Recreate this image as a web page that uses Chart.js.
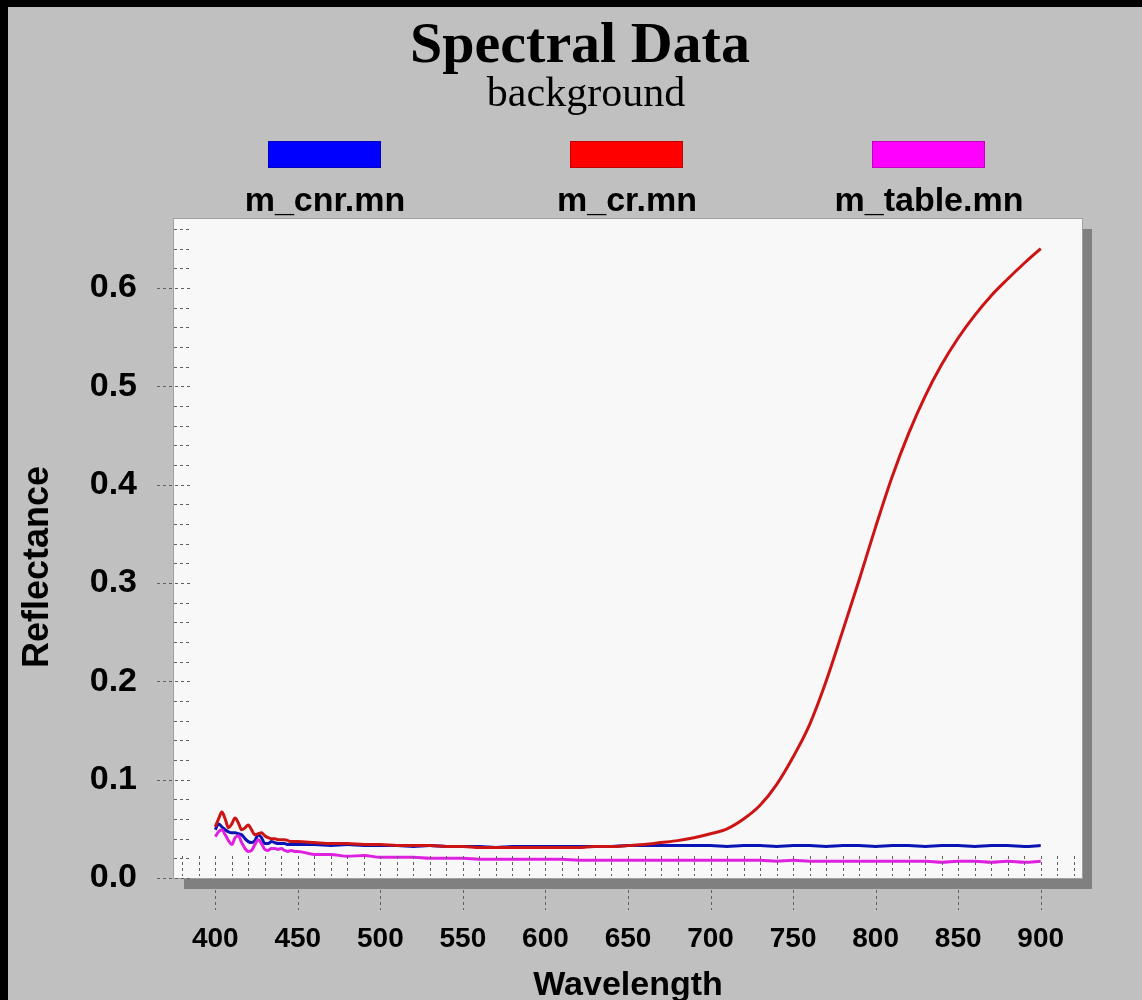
<!DOCTYPE html>
<html><head><meta charset="utf-8">
<script src="https://cdn.jsdelivr.net/npm/chart.js@4/dist/chart.umd.min.js"></script>
<style>html,body{margin:0;padding:0;background:#c0c0c0;}canvas{display:block}</style>
</head><body>
<canvas id="c" width="1142" height="1000"></canvas>
<script>
const wavelengths = [400,402,404,406,408,410,412,414,416,418,420,422,424,426,428,430,432,434,436,438,440,442,444,446,448,450,
  460,470,480,490,500,510,520,530,540,550,560,570,580,590,600,610,620,630,640,650,660,670,680,690,700,
  710,720,730,740,750,760,770,780,790,800,810,820,830,840,850,860,870,880,890,900];
const mCnr = [0.049,0.055,0.052,0.049,0.047,0.046,0.046,0.045,0.044,0.040,0.037,0.036,0.038,0.044,0.041,0.035,0.035,0.037,0.036,0.035,0.035,0.035,0.034,0.034,0.034,0.034,
  0.034,0.033,0.034,0.033,0.033,0.033,0.032,0.033,0.032,0.032,0.032,0.031,0.032,0.032,0.032,0.032,0.032,0.032,0.032,0.033,0.033,0.033,0.033,0.033,0.033,
  0.032,0.033,0.033,0.032,0.033,0.033,0.032,0.033,0.033,0.032,0.033,0.033,0.032,0.033,0.033,0.032,0.033,0.033,0.032,0.033];
const mCr = [0.052,0.060,0.067,0.060,0.051,0.055,0.061,0.056,0.049,0.051,0.054,0.049,0.044,0.045,0.046,0.043,0.041,0.040,0.040,0.039,0.039,0.039,0.038,0.037,0.037,0.037,
  0.036,0.035,0.035,0.034,0.034,0.033,0.033,0.033,0.032,0.032,0.031,0.031,0.031,0.031,0.031,0.031,0.031,0.032,0.032,0.033,0.034,0.036,0.038,0.041,0.045,
  0.050,0.060,0.074,0.095,0.123,0.156,0.200,0.251,0.303,0.357,0.408,0.452,0.490,0.522,0.549,0.572,0.592,0.609,0.625,0.640];
const mTable = [0.042,0.047,0.049,0.044,0.038,0.034,0.041,0.043,0.036,0.030,0.027,0.028,0.034,0.039,0.035,0.029,0.028,0.030,0.030,0.029,0.030,0.028,0.027,0.028,0.027,0.027,
  0.024,0.024,0.022,0.023,0.021,0.021,0.021,0.020,0.020,0.020,0.019,0.019,0.019,0.019,0.019,0.019,0.018,0.018,0.018,0.018,0.018,0.018,0.018,0.018,0.018,
  0.018,0.018,0.018,0.017,0.018,0.017,0.017,0.017,0.017,0.017,0.017,0.017,0.017,0.016,0.017,0.017,0.016,0.017,0.016,0.017];
const seriesNames = ['m_cnr.mn','m_cr.mn','m_table.mn'];
const seriesColors = ['#0a14b4','#cc1414','#e020e0'];
const legendColors = ['#0000ff','#ff0000','#ff00ff'];
const xTickValues = [400,450,500,550,600,650,700,750,800,850,900];
const yTickValues = [0.0,0.1,0.2,0.3,0.4,0.5,0.6];
const chartTitle = 'Spectral Data';
const chartSubtitle = 'background';
const xTitle = 'Wavelength';
const yTitle = 'Reflectance';

const toPts = arr => arr.map((v,i)=>({x:wavelengths[i], y:v}));

const decor = {
  id:'decor',
  beforeDraw(chart){
    const {ctx, chartArea:a} = chart;
    ctx.save();
    ctx.fillStyle = '#c0c0c0'; ctx.fillRect(0,0,chart.width,chart.height);
    ctx.fillStyle = '#000'; ctx.fillRect(0,0,chart.width,7); ctx.fillRect(0,0,8,chart.height);
    ctx.fillStyle = '#808080'; ctx.fillRect(a.left+10,a.top+10,a.right-a.left,a.bottom-a.top+1);
    ctx.fillStyle = '#f8f8f8'; ctx.fillRect(a.left,a.top,a.right-a.left,a.bottom-a.top);
    ctx.strokeStyle = '#a0a0a0'; ctx.lineWidth = 1;
    ctx.strokeRect(a.left-0.5,a.top-0.5,a.right-a.left+1,a.bottom-a.top+1);
    ctx.fillStyle = '#000'; ctx.textAlign = 'center'; ctx.textBaseline = 'alphabetic';
    ctx.font = 'bold 58px "Liberation Serif", "Times New Roman", serif';
    ctx.fillText(chartTitle, 580, 62);
    ctx.font = '42px "Liberation Serif", "Times New Roman", serif';
    ctx.fillText(chartSubtitle, 586, 106);
    const cx = [325, 627, 929];
    ctx.font = 'bold 34px "Liberation Sans", Arial, sans-serif';
    seriesNames.forEach((n,i)=>{
      ctx.fillStyle = legendColors[i];
      ctx.fillRect(cx[i]-57,141,113,27);
      ctx.strokeStyle = 'rgba(0,0,0,0.25)'; ctx.strokeRect(cx[i]-57+0.5,141.5,112,26);
      ctx.fillStyle = '#000';
      ctx.fillText(n, cx[i], 211);
    });
    ctx.save();
    ctx.translate(38, 567); ctx.rotate(-Math.PI/2);
    ctx.textBaseline = 'middle';
    ctx.font = 'bold 36px "Liberation Sans", Arial, sans-serif';
    ctx.fillText(yTitle, 0, 0);
    ctx.restore();
    ctx.restore();
  },
  afterDatasetsDraw(chart){
    const {ctx, chartArea:a, scales:{x,y}} = chart;
    ctx.save();
    ctx.strokeStyle = '#606060'; ctx.lineWidth = 1; ctx.setLineDash([3,3]);
    ctx.beginPath();
    for (let k=0;k<=33;k++){
      const v = k*0.02; const py = Math.round(y.getPixelForValue(v))+0.5;
      const major = (k%5===0);
      ctx.moveTo(major ? a.left-17 : a.left, py); ctx.lineTo(a.left+16, py);
    }
    for (let w=380; w<=920; w+=10){
      const px = Math.round(x.getPixelForValue(w))+0.5;
      ctx.moveTo(px, a.bottom-22); ctx.lineTo(px, a.bottom-2);
    }
    xTickValues.forEach(w=>{
      const px = Math.round(x.getPixelForValue(w))+0.5;
      ctx.moveTo(px, a.bottom+12); ctx.lineTo(px, a.bottom+32);
    });
    ctx.stroke();
    ctx.restore();
  }
};

const sans = '"Liberation Sans", Arial, sans-serif';
new Chart(document.getElementById('c'), {
  type:'line',
  data:{datasets:[
    {label:seriesNames[1], data:toPts(mCr), borderColor:seriesColors[1], order:0},
    {label:seriesNames[2], data:toPts(mTable), borderColor:seriesColors[2], order:1},
    {label:seriesNames[0], data:toPts(mCnr), borderColor:seriesColors[0], order:2}
  ]},
  options:{
    responsive:false, animation:false, devicePixelRatio:1,
    layout:{padding:{top:219,right:60,left:0,bottom:0}},
    plugins:{legend:{display:false}, title:{display:false}, tooltip:{enabled:false}},
    elements:{point:{radius:0}, line:{borderWidth:3, tension:0, cubicInterpolationMode:'monotone', fill:false}},
    scales:{
      x:{type:'linear', min:375, max:925,
        afterBuildTicks:s=>{s.ticks = xTickValues.map(v=>({value:v}));},
        afterFit:s=>{s.height = 122;},
        grid:{display:false, drawTicks:false}, border:{display:false},
        ticks:{padding:44, color:'#000', autoSkip:false, maxRotation:0, font:{family:sans, size:28, weight:'bold'}, callback:v=>String(v)},
        title:{display:true, text:xTitle, color:'#000', font:{family:sans, size:34, weight:'bold'}, padding:{top:0,bottom:-6}}
      },
      y:{type:'linear', min:0, max:0.67,
        afterBuildTicks:s=>{s.ticks = yTickValues.map(v=>({value:v}));},
        afterFit:s=>{s.width = 174;},
        grid:{display:false, drawTicks:false}, border:{display:false},
        ticks:{padding:37, color:'#000', font:{family:sans, size:34, weight:'bold'}, callback:v=>Number(v).toFixed(1)},
        title:{display:false}
      }
    }
  },
  plugins:[decor]
});
</script>
</body></html>
